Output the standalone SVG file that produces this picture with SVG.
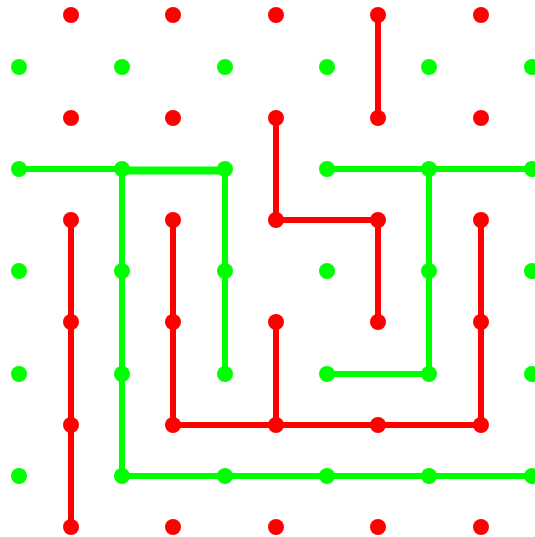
<svg xmlns="http://www.w3.org/2000/svg" width="535" height="537" viewBox="0 0 535 537">
<style>
.r{fill:#ff0000}
.g{fill:#00ff00}
circle{r:8px}
.er{stroke:#ff0000;stroke-width:6;fill:none;stroke-linejoin:round}
.eg{stroke:#00ff00;stroke-width:6;fill:none;stroke-linejoin:round}
</style>
<rect width="535" height="537" fill="#ffffff"/>
<g id="connectors">
<path class="er" d="M378,15 V118"/>
<path class="er" d="M276,118 V220 H378 V322"/>
<path class="er" d="M71,220 V527"/>
<path class="er" d="M173,220 V425 H481 V220"/>
<path class="er" d="M276,322 V425"/>
<path class="eg" d="M19,169 H122"/>
<path class="eg" d="M122,170.5 H225" style="stroke-width:8"/>
<path class="eg" d="M225,169 V374"/>
<path class="eg" d="M122,169 V476 H535"/>
<path class="eg" d="M327,169 H535"/>
<path class="eg" d="M429,169 V374 H327"/>
</g>
<g id="red-dots">
<g id="r1"><circle class="r" cx="71" cy="15" r="8"/></g>
<g id="r2"><circle class="r" cx="173" cy="15" r="8"/></g>
<g id="r3"><circle class="r" cx="276" cy="15" r="8"/></g>
<g id="r4"><circle class="r" cx="378" cy="15" r="8"/></g>
<g id="r5"><circle class="r" cx="481" cy="15" r="8"/></g>
<g id="r6"><circle class="r" cx="71" cy="118" r="8"/></g>
<g id="r7"><circle class="r" cx="173" cy="118" r="8"/></g>
<g id="r8"><circle class="r" cx="276" cy="118" r="8"/></g>
<g id="r9"><circle class="r" cx="378" cy="118" r="8"/></g>
<g id="r10"><circle class="r" cx="481" cy="118" r="8"/></g>
<g id="r11"><circle class="r" cx="71" cy="220" r="8"/></g>
<g id="r12"><circle class="r" cx="173" cy="220" r="8"/></g>
<g id="r13"><circle class="r" cx="276" cy="220" r="8"/></g>
<g id="r14"><circle class="r" cx="378" cy="220" r="8"/></g>
<g id="r15"><circle class="r" cx="481" cy="220" r="8"/></g>
<g id="r16"><circle class="r" cx="71" cy="322" r="8"/></g>
<g id="r17"><circle class="r" cx="173" cy="322" r="8"/></g>
<g id="r18"><circle class="r" cx="276" cy="322" r="8"/></g>
<g id="r19"><circle class="r" cx="378" cy="322" r="8"/></g>
<g id="r20"><circle class="r" cx="481" cy="322" r="8"/></g>
<g id="r21"><circle class="r" cx="71" cy="425" r="8"/></g>
<g id="r22"><circle class="r" cx="173" cy="425" r="8"/></g>
<g id="r23"><circle class="r" cx="276" cy="425" r="8"/></g>
<g id="r24"><circle class="r" cx="378" cy="425" r="8"/></g>
<g id="r25"><circle class="r" cx="481" cy="425" r="8"/></g>
<g id="r26"><circle class="r" cx="71" cy="527" r="8"/></g>
<g id="r27"><circle class="r" cx="173" cy="527" r="8"/></g>
<g id="r28"><circle class="r" cx="276" cy="527" r="8"/></g>
<g id="r29"><circle class="r" cx="378" cy="527" r="8"/></g>
<g id="r30"><circle class="r" cx="481" cy="527" r="8"/></g>
</g>
<g id="green-dots">
<g id="g1"><circle class="g" cx="19" cy="67" r="8"/></g>
<g id="g2"><circle class="g" cx="122" cy="67" r="8"/></g>
<g id="g3"><circle class="g" cx="225" cy="67" r="8"/></g>
<g id="g4"><circle class="g" cx="327" cy="67" r="8"/></g>
<g id="g5"><circle class="g" cx="429" cy="67" r="8"/></g>
<g id="g6"><circle class="g" cx="532" cy="67" r="8"/></g>
<g id="g7"><circle class="g" cx="19" cy="169" r="8"/></g>
<g id="g8"><circle class="g" cx="122" cy="169" r="8"/></g>
<g id="g9"><circle class="g" cx="225" cy="169" r="8"/></g>
<g id="g10"><circle class="g" cx="327" cy="169" r="8"/></g>
<g id="g11"><circle class="g" cx="429" cy="169" r="8"/></g>
<g id="g12"><circle class="g" cx="532" cy="169" r="8"/></g>
<g id="g13"><circle class="g" cx="19" cy="271" r="8"/></g>
<g id="g14"><circle class="g" cx="122" cy="271" r="8"/></g>
<g id="g15"><circle class="g" cx="225" cy="271" r="8"/></g>
<g id="g16"><circle class="g" cx="327" cy="271" r="8"/></g>
<g id="g17"><circle class="g" cx="429" cy="271" r="8"/></g>
<g id="g18"><circle class="g" cx="532" cy="271" r="8"/></g>
<g id="g19"><circle class="g" cx="19" cy="374" r="8"/></g>
<g id="g20"><circle class="g" cx="122" cy="374" r="8"/></g>
<g id="g21"><circle class="g" cx="225" cy="374" r="8"/></g>
<g id="g22"><circle class="g" cx="327" cy="374" r="8"/></g>
<g id="g23"><circle class="g" cx="429" cy="374" r="8"/></g>
<g id="g24"><circle class="g" cx="532" cy="374" r="8"/></g>
<g id="g25"><circle class="g" cx="19" cy="476" r="8"/></g>
<g id="g26"><circle class="g" cx="122" cy="476" r="8"/></g>
<g id="g27"><circle class="g" cx="225" cy="476" r="8"/></g>
<g id="g28"><circle class="g" cx="327" cy="476" r="8"/></g>
<g id="g29"><circle class="g" cx="429" cy="476" r="8"/></g>
<g id="g30"><circle class="g" cx="532" cy="476" r="8"/></g>
</g>
</svg>
